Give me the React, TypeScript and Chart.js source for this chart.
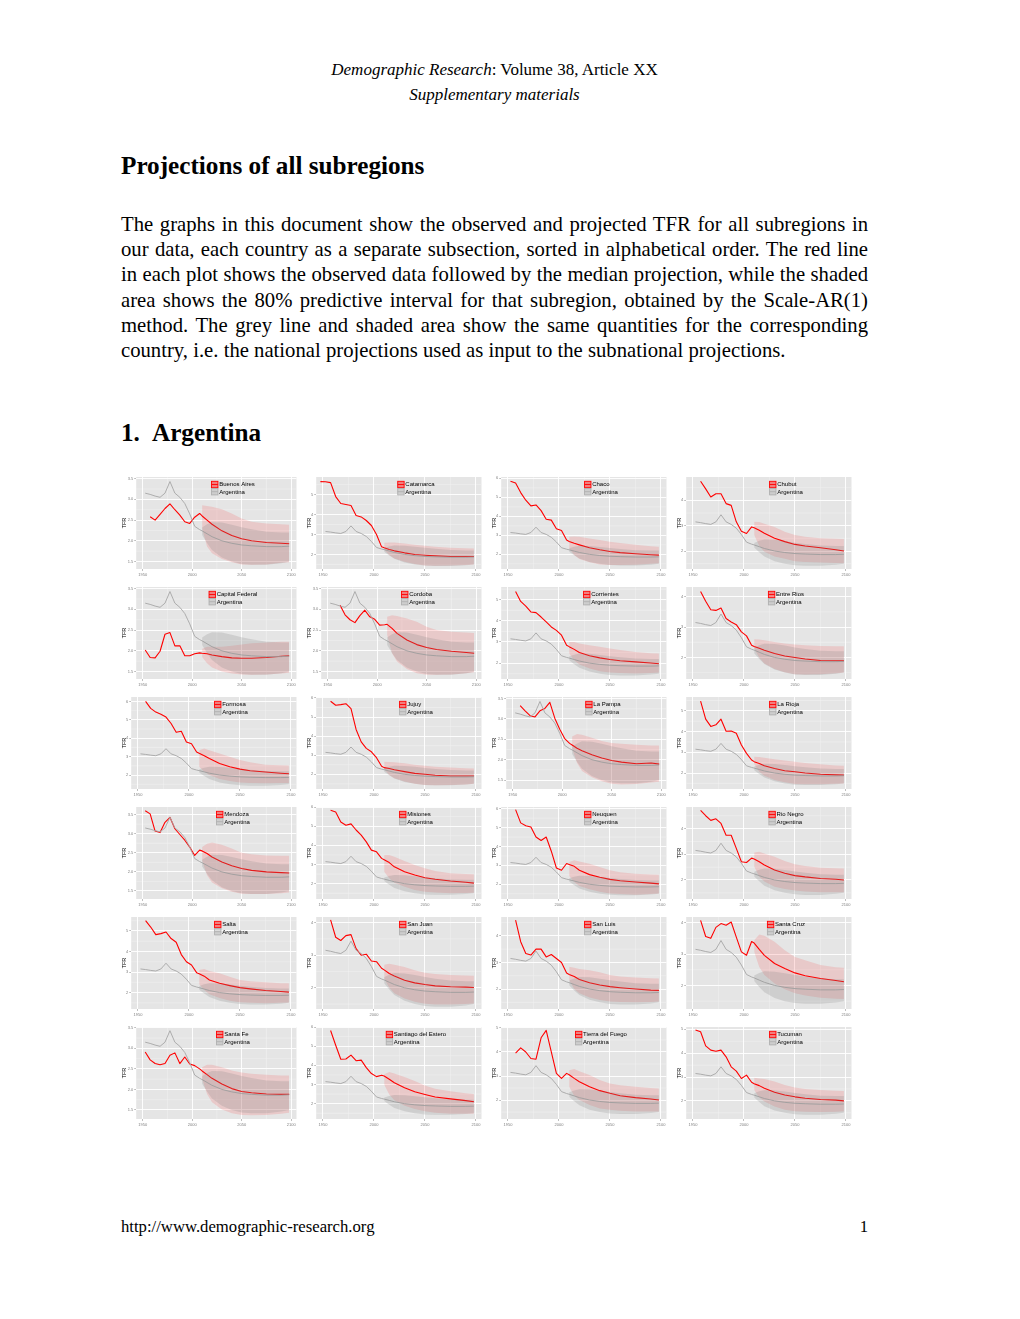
import React, { useEffect, useRef } from "react";
import { Chart, registerables } from "chart.js";
Chart.register(...registerables);

// ---------- DATA ----------
const obsYears = [1947.5, 1952.5, 1957.5, 1962.5, 1967.5, 1972.5, 1977.5, 1982.5, 1987.5, 1992.5, 1997.5, 2002.5, 2007.5];
const projYears = [2010, 2015, 2020, 2030, 2040, 2050, 2060, 2075, 2090, 2098];
const xTickYears = [1950, 2000, 2050, 2100];
const halfStepTicks = [1.5, 2.0, 2.5, 3.0, 3.5];
const unitStepTicks = [2, 3, 4, 5, 6];

// Argentina (national, grey)
const argentinaObs = [null, 3.15, 3.12, 3.08, 3.05, 3.15, 3.43, 3.15, 3.05, 2.9, 2.65, 2.35, 2.27];
const argentinaMed = [2.24, 2.17, 2.1, 2.0, 1.94, 1.9, 1.88, 1.86, 1.86, 1.87];
const argentinaLo = [2.14, 1.95, 1.78, 1.6, 1.5, 1.44, 1.42, 1.42, 1.46, 1.5];
const argentinaHi = [2.32, 2.4, 2.45, 2.44, 2.39, 2.33, 2.28, 2.22, 2.2, 2.2];

const buenosAiresObs = [null, null, 2.58, 2.5, 2.64, 2.78, 2.89, 2.75, 2.62, 2.46, 2.42, 2.57, 2.66];
const buenosAiresMed = [2.6, 2.5, 2.4, 2.24, 2.13, 2.05, 2.0, 1.96, 1.94, 1.93];
const buenosAiresLo = [2.3, 1.86, 1.7, 1.56, 1.48, 1.43, 1.42, 1.43, 1.47, 1.48];
const buenosAiresHi = [2.86, 2.84, 2.82, 2.76, 2.66, 2.54, 2.46, 2.42, 2.4, 2.39];

const catamarcaObs = [5.65, 5.64, 5.6, 4.9, 4.55, 4.5, 4.45, 3.95, 3.88, 3.7, 3.45, 3.0, 2.38];
const catamarcaMed = [2.33, 2.25, 2.18, 2.08, 2.0, 1.96, 1.93, 1.9, 1.9, 1.9];
const catamarcaLo = [2.25, 1.97, 1.8, 1.63, 1.52, 1.45, 1.43, 1.44, 1.47, 1.5];
const catamarcaHi = [2.58, 2.6, 2.6, 2.55, 2.49, 2.43, 2.38, 2.33, 2.31, 2.3];

const chacoObs = [null, 5.85, 5.75, 5.25, 4.85, 4.55, 4.6, 4.3, 3.85, 3.8, 3.35, 3.25, 2.75];
const chacoMed = [2.68, 2.58, 2.5, 2.35, 2.24, 2.15, 2.09, 2.03, 1.98, 1.96];
const chacoLo = [2.32, 1.97, 1.75, 1.58, 1.47, 1.44, 1.44, 1.46, 1.5, 1.53];
const chacoHi = [2.93, 2.94, 2.93, 2.84, 2.75, 2.67, 2.6, 2.5, 2.43, 2.4];

const chubutObs = [null, null, 4.75, 4.45, 4.13, 4.26, 4.26, 3.87, 3.8, 3.15, 2.78, 2.69, 2.95];
const chubutMed = [2.92, 2.82, 2.7, 2.5, 2.37, 2.26, 2.2, 2.13, 2.05, 2.0];
const chubutLo = [2.63, 2.2, 1.97, 1.78, 1.69, 1.6, 1.57, 1.55, 1.53, 1.52];
const chubutHi = [3.15, 3.14, 3.08, 2.95, 2.76, 2.63, 2.56, 2.5, 2.48, 2.47];

const capitalObs = [null, 2.02, 1.84, 1.83, 1.99, 2.4, 2.44, 2.12, 2.12, 1.88, 1.88, 1.93, 1.95];
const capitalMed = [1.94, 1.93, 1.9, 1.86, 1.83, 1.82, 1.82, 1.84, 1.87, 1.88];
const capitalLo = [1.85, 1.7, 1.6, 1.5, 1.45, 1.43, 1.42, 1.43, 1.45, 1.47];
const capitalHi = [2.05, 2.1, 2.1, 2.1, 2.12, 2.15, 2.18, 2.2, 2.22, 2.22];

const cordobaObs = [null, null, null, 3.1, 2.87, 2.75, 2.68, 2.85, 2.98, 2.82, 2.76, 2.62, 2.63];
const cordobaMed = [2.64, 2.54, 2.42, 2.26, 2.15, 2.08, 2.03, 1.99, 1.96, 1.94];
const cordobaLo = [2.38, 1.94, 1.74, 1.56, 1.46, 1.42, 1.42, 1.43, 1.46, 1.48];
const cordobaHi = [2.82, 2.86, 2.84, 2.78, 2.7, 2.58, 2.5, 2.46, 2.44, 2.43];

const corrientesObs = [null, null, 5.39, 4.92, 4.7, 4.42, 4.39, 4.18, 3.95, 3.71, 3.55, 3.32, 2.85];
const corrientesMed = [2.78, 2.65, 2.5, 2.35, 2.25, 2.17, 2.11, 2.06, 2.01, 1.97];
const corrientesLo = [2.45, 2.14, 1.94, 1.75, 1.62, 1.56, 1.53, 1.51, 1.53, 1.56];
const corrientesHi = [3.0, 3.0, 2.93, 2.85, 2.77, 2.69, 2.62, 2.53, 2.47, 2.45];

const entreRiosObs = [null, null, 4.17, 3.85, 3.57, 3.55, 3.63, 3.28, 3.17, 3.08, 2.84, 2.71, 2.4];
const entreRiosMed = [2.36, 2.3, 2.24, 2.13, 2.05, 2.0, 1.95, 1.9, 1.89, 1.89];
const entreRiosLo = [2.3, 1.99, 1.8, 1.62, 1.51, 1.45, 1.44, 1.45, 1.48, 1.5];
const entreRiosHi = [2.6, 2.59, 2.57, 2.51, 2.46, 2.43, 2.4, 2.38, 2.37, 2.37];

const formosaObs = [null, null, 6.0, 5.62, 5.42, 5.3, 5.15, 4.8, 4.32, 4.38, 3.8, 3.7, 3.25];
const formosaMed = [3.18, 3.05, 2.9, 2.63, 2.45, 2.32, 2.23, 2.16, 2.1, 2.07];
const formosaLo = [2.45, 2.18, 2.0, 1.78, 1.68, 1.6, 1.57, 1.55, 1.56, 1.57];
const formosaHi = [3.35, 3.44, 3.35, 3.17, 2.99, 2.81, 2.7, 2.56, 2.53, 2.52];

const jujuyObs = [null, null, 5.83, 5.62, 5.65, 5.7, 5.44, 4.35, 3.7, 3.36, 3.18, 2.87, 2.42];
const jujuyMed = [2.35, 2.3, 2.24, 2.14, 2.05, 2.0, 1.95, 1.91, 1.91, 1.91];
const jujuyLo = [2.28, 1.97, 1.79, 1.62, 1.5, 1.44, 1.43, 1.44, 1.47, 1.5];
const jujuyHi = [2.66, 2.65, 2.63, 2.58, 2.5, 2.45, 2.4, 2.35, 2.32, 2.31];

const laPampaObs = [null, null, 3.33, 3.2, 3.08, 3.05, 3.2, 3.26, 3.41, 3.02, 2.75, 2.52, 2.4];
const laPampaMed = [2.36, 2.28, 2.22, 2.12, 2.04, 1.98, 1.94, 1.9, 1.92, 1.89];
const laPampaLo = [2.28, 1.92, 1.72, 1.57, 1.47, 1.41, 1.39, 1.4, 1.44, 1.46];
const laPampaHi = [2.57, 2.63, 2.61, 2.54, 2.46, 2.41, 2.39, 2.37, 2.35, 2.35];

const laRiojaObs = [null, null, 5.47, 4.6, 4.25, 4.33, 4.6, 4.02, 4.03, 3.92, 3.35, 2.95, 2.63];
const laRiojaMed = [2.55, 2.46, 2.35, 2.22, 2.11, 2.06, 2.0, 1.94, 1.91, 1.9];
const laRiojaLo = [2.42, 2.06, 1.87, 1.66, 1.55, 1.47, 1.46, 1.46, 1.48, 1.5];
const laRiojaHi = [2.79, 2.78, 2.74, 2.67, 2.61, 2.55, 2.49, 2.42, 2.37, 2.35];

const mendozaObs = [null, 3.6, 3.52, 3.07, 3.03, 3.3, 3.43, 3.13, 2.98, 2.83, 2.65, 2.43, 2.57];
const mendozaMed = [2.55, 2.48, 2.39, 2.26, 2.16, 2.09, 2.04, 2.0, 1.98, 1.97];
const mendozaLo = [2.3, 1.91, 1.72, 1.57, 1.48, 1.43, 1.42, 1.42, 1.44, 1.46];
const mendozaHi = [2.65, 2.74, 2.77, 2.71, 2.61, 2.5, 2.46, 2.43, 2.42, 2.42];

const misionesObs = [null, null, 5.83, 5.74, 5.22, 5.05, 5.12, 4.8, 4.53, 4.18, 3.75, 3.66, 3.32];
const misionesMed = [3.25, 3.1, 2.88, 2.62, 2.45, 2.31, 2.23, 2.14, 2.07, 2.03];
const misionesLo = [2.62, 2.28, 2.05, 1.84, 1.67, 1.58, 1.54, 1.5, 1.51, 1.53];
const misionesHi = [3.49, 3.5, 3.4, 3.18, 2.97, 2.8, 2.66, 2.54, 2.5, 2.49];

const neuquenObs = [null, null, 5.95, 5.25, 5.1, 5.03, 4.5, 4.32, 4.5, 3.75, 2.86, 2.74, 3.1];
const neuquenMed = [3.05, 2.95, 2.74, 2.51, 2.37, 2.26, 2.19, 2.12, 2.06, 2.02];
const neuquenLo = [2.44, 2.12, 1.91, 1.74, 1.6, 1.51, 1.48, 1.45, 1.48, 1.51];
const neuquenHi = [3.18, 3.27, 3.21, 3.09, 2.92, 2.74, 2.64, 2.56, 2.52, 2.51];

const rioNegroObs = [null, null, 4.71, 4.5, 4.32, 4.38, 4.2, 3.74, 3.74, 3.23, 2.71, 2.68, 2.85];
const rioNegroMed = [2.82, 2.71, 2.58, 2.39, 2.26, 2.17, 2.12, 2.06, 2.03, 2.0];
const rioNegroLo = [2.52, 2.13, 1.94, 1.74, 1.65, 1.59, 1.55, 1.52, 1.52, 1.52];
const rioNegroHi = [3.07, 3.1, 3.03, 2.9, 2.74, 2.61, 2.54, 2.48, 2.46, 2.45];

const saltaObs = [null, null, 5.5, 5.19, 4.82, 4.87, 4.95, 4.63, 4.45, 3.85, 3.5, 3.34, 2.97];
const saltaMed = [2.92, 2.8, 2.61, 2.45, 2.34, 2.24, 2.18, 2.1, 2.05, 2.02];
const saltaLo = [2.4, 2.13, 1.92, 1.73, 1.6, 1.53, 1.5, 1.48, 1.5, 1.52];
const saltaHi = [3.1, 3.15, 3.05, 2.94, 2.77, 2.61, 2.55, 2.5, 2.46, 2.45];

const sanJuanObs = [null, null, 4.08, 3.55, 3.45, 3.6, 3.63, 3.2, 3.0, 3.03, 2.82, 2.8, 2.6];
const sanJuanMed = [2.55, 2.44, 2.36, 2.23, 2.15, 2.1, 2.06, 2.03, 2.02, 2.01];
const sanJuanLo = [2.29, 2.0, 1.83, 1.67, 1.57, 1.51, 1.49, 1.49, 1.5, 1.52];
const sanJuanHi = [2.71, 2.74, 2.71, 2.64, 2.54, 2.46, 2.42, 2.39, 2.38, 2.37];

const sanLuisObs = [null, null, 4.59, 3.78, 3.34, 3.28, 3.5, 3.5, 3.21, 3.3, 3.15, 3.0, 2.6];
const sanLuisMed = [2.55, 2.47, 2.36, 2.24, 2.15, 2.09, 2.05, 2.0, 1.96, 1.95];
const sanLuisLo = [2.34, 2.0, 1.84, 1.68, 1.59, 1.53, 1.51, 1.5, 1.51, 1.53];
const sanLuisHi = [2.84, 2.8, 2.75, 2.71, 2.63, 2.53, 2.47, 2.43, 2.41, 2.4];

const santaCruzObs = [null, null, 4.07, 3.56, 3.5, 3.85, 3.97, 3.92, 4.02, 3.54, 3.07, 2.96, 3.4];
const santaCruzMed = [3.35, 3.15, 2.96, 2.7, 2.54, 2.4, 2.31, 2.22, 2.16, 2.12];
const santaCruzLo = [3.07, 2.59, 2.33, 2.06, 1.88, 1.75, 1.68, 1.61, 1.58, 1.57];
const santaCruzHi = [3.44, 3.62, 3.58, 3.39, 3.12, 2.91, 2.8, 2.65, 2.58, 2.56];

const santaFeObs = [null, 2.91, 2.72, 2.63, 2.6, 2.63, 2.83, 2.89, 2.63, 2.79, 2.62, 2.58, 2.5];
const santaFeMed = [2.45, 2.36, 2.27, 2.13, 2.02, 1.95, 1.92, 1.89, 1.88, 1.88];
const santaFeLo = [2.26, 1.89, 1.69, 1.51, 1.42, 1.38, 1.37, 1.38, 1.41, 1.43];
const santaFeHi = [2.54, 2.6, 2.6, 2.54, 2.46, 2.41, 2.38, 2.36, 2.34, 2.34];

const santiagoObs = [null, null, 5.82, 5.05, 4.32, 4.33, 4.53, 4.24, 4.27, 3.88, 3.57, 3.41, 3.48];
const santiagoMed = [3.44, 3.27, 3.09, 2.83, 2.62, 2.48, 2.35, 2.25, 2.16, 2.1];
const santiagoLo = [3.0, 2.48, 2.18, 1.89, 1.72, 1.6, 1.53, 1.47, 1.47, 1.47];
const santiagoHi = [3.53, 3.65, 3.58, 3.39, 3.18, 2.95, 2.78, 2.65, 2.55, 2.51];

const tierraObs = [null, null, 3.95, 4.17, 4.0, 3.73, 3.7, 4.59, 4.9, 4.0, 3.11, 2.9, 3.11];
const tierraMed = [3.05, 2.9, 2.76, 2.55, 2.39, 2.28, 2.18, 2.1, 2.04, 2.0];
const tierraLo = [2.55, 2.18, 2.0, 1.79, 1.65, 1.59, 1.55, 1.52, 1.52, 1.52];
const tierraHi = [3.24, 3.29, 3.2, 3.04, 2.83, 2.69, 2.61, 2.55, 2.5, 2.48];

const tucumanObs = [null, 4.97, 4.9, 4.31, 4.13, 4.08, 4.13, 3.85, 3.43, 3.25, 2.94, 3.08, 2.78];
const tucumanMed = [2.72, 2.64, 2.53, 2.36, 2.25, 2.17, 2.11, 2.06, 2.03, 2.0];
const tucumanLo = [2.46, 2.14, 1.97, 1.76, 1.63, 1.56, 1.54, 1.53, 1.54, 1.56];
const tucumanHi = [2.97, 2.94, 2.92, 2.81, 2.67, 2.56, 2.5, 2.46, 2.43, 2.42];

const regionNames = [
  "Buenos Aires", "Catamarca", "Chaco", "Chubut",
  "Capital Federal", "Cordoba", "Corrientes", "Entre Rios",
  "Formosa", "Jujuy", "La Pampa", "La Rioja",
  "Mendoza", "Misiones", "Neuquen", "Rio Negro",
  "Salta", "San Juan", "San Luis", "Santa Cruz",
  "Santa Fe", "Santiago del Estero", "Tierra del Fuego", "Tucuman",
];
const regionObs = [buenosAiresObs, catamarcaObs, chacoObs, chubutObs, capitalObs, cordobaObs, corrientesObs, entreRiosObs, formosaObs, jujuyObs, laPampaObs, laRiojaObs, mendozaObs, misionesObs, neuquenObs, rioNegroObs, saltaObs, sanJuanObs, sanLuisObs, santaCruzObs, santaFeObs, santiagoObs, tierraObs, tucumanObs];
const regionMed = [buenosAiresMed, catamarcaMed, chacoMed, chubutMed, capitalMed, cordobaMed, corrientesMed, entreRiosMed, formosaMed, jujuyMed, laPampaMed, laRiojaMed, mendozaMed, misionesMed, neuquenMed, rioNegroMed, saltaMed, sanJuanMed, sanLuisMed, santaCruzMed, santaFeMed, santiagoMed, tierraMed, tucumanMed];
const regionLo = [buenosAiresLo, catamarcaLo, chacoLo, chubutLo, capitalLo, cordobaLo, corrientesLo, entreRiosLo, formosaLo, jujuyLo, laPampaLo, laRiojaLo, mendozaLo, misionesLo, neuquenLo, rioNegroLo, saltaLo, sanJuanLo, sanLuisLo, santaCruzLo, santaFeLo, santiagoLo, tierraLo, tucumanLo];
const regionHi = [buenosAiresHi, catamarcaHi, chacoHi, chubutHi, capitalHi, cordobaHi, corrientesHi, entreRiosHi, formosaHi, jujuyHi, laPampaHi, laRiojaHi, mendozaHi, misionesHi, neuquenHi, rioNegroHi, saltaHi, sanJuanHi, sanLuisHi, santaCruzHi, santaFeHi, santiagoHi, tierraHi, tucumanHi];
const yMinByRegion = [1.32, 1.27, 1.23, 1.29, 1.32, 1.32, 1.25, 1.29, 1.24, 1.23, 1.28, 1.23, 1.29, 1.2, 1.22, 1.26, 1.2, 1.35, 1.25, 1.25, 1.28, 1.2, 1.21, 1.24];
const yMaxByRegion = [3.54, 5.88, 6.07, 4.92, 3.54, 3.54, 5.6, 4.32, 6.24, 6.05, 3.54, 5.67, 3.7, 6.0, 6.09, 4.84, 5.68, 4.17, 4.71, 4.18, 3.52, 6.0, 5.04, 5.1];
const halfStepRegion = [true, false, false, false, true, true, false, false, false, false, true, false, true, false, false, false, false, false, false, false, true, false, false, false];

const paragraphLines = [
  "The graphs in this document show the observed and projected TFR for all subregions in",
  "our data, each country as a separate subsection, sorted in alphabetical order. The red line",
  "in each plot shows the observed data followed by the median projection, while the shaded",
  "area shows the 80% predictive interval for that subregion, obtained by the Scale-AR(1)",
  "method.  The grey line and shaded area show the same quantities for the corresponding",
  "country, i.e. the national projections used as input to the subnational projections.",
];

// ---------- LAYOUT ----------
const SANS = '"Liberation Sans", Arial, Helvetica, sans-serif';
const SERIF = '"Liberation Serif", "Times New Roman", Times, serif';
const COL_LEFT = [121, 306, 491, 676];
const ROW_TOP = [472, 582, 692, 802, 912, 1022];
const CW = 178;
const CH = 107;

function toPoints(years: number[], vals: (number | null)[]) {
  const out: { x: number; y: number }[] = [];
  years.forEach((yr, i) => {
    const v = vals[i];
    if (v !== null && v !== undefined) out.push({ x: yr, y: v });
  });
  return out;
}

function minorBreaks(vals: number[], lo: number, hi: number) {
  if (vals.length < 2) return [];
  const d = vals[1] - vals[0];
  const b = [vals[0] - d, ...vals, vals[vals.length - 1] + d];
  const m: number[] = [];
  for (let i = 0; i < b.length - 1; i++) {
    const v = (b[i] + b[i + 1]) / 2;
    if (v > lo && v < hi) m.push(v);
  }
  return m;
}

const panelPlugin = {
  id: "ggPanel",
  beforeDraw(chart: any) {
    const { ctx, chartArea: a, scales } = chart;
    ctx.save();
    ctx.fillStyle = "#E5E5E5";
    ctx.fillRect(a.left, a.top, a.width, a.height);
    ctx.strokeStyle = "#F2F2F2";
    ctx.lineWidth = 0.5;
    const xs = scales.x;
    const ys = scales.y;
    minorBreaks(xs.ticks.map((t: any) => t.value), xs.min, xs.max).forEach((v) => {
      const p = xs.getPixelForValue(v);
      ctx.beginPath();
      ctx.moveTo(p, a.top);
      ctx.lineTo(p, a.bottom);
      ctx.stroke();
    });
    minorBreaks(ys.ticks.map((t: any) => t.value), ys.min, ys.max).forEach((v) => {
      const p = ys.getPixelForValue(v);
      ctx.beginPath();
      ctx.moveTo(a.left, p);
      ctx.lineTo(a.right, p);
      ctx.stroke();
    });
    ctx.restore();
  },
};

const legendPlugin = {
  id: "ggLegend",
  afterDraw(chart: any, _args: any, opts: any) {
    const { ctx, chartArea: a } = chart;
    const labels = [opts.name, "Argentina"];
    ctx.save();
    ctx.font = `6px ${SANS}`;
    const tw = Math.max(...labels.map((l: string) => ctx.measureText(l).width));
    const key = 6.4;
    const gap = 1.2;
    const total = key + gap + tw;
    const x0 = a.left + a.width * 0.605 - total / 2;
    const y0 = a.top + 4.3;
    labels.forEach((lab: string, i: number) => {
      const ky = y0 + i * 7.2;
      const isRed = i === 0;
      ctx.fillStyle = isRed ? "rgba(255,0,0,0.45)" : "rgba(150,150,150,0.3)";
      ctx.fillRect(x0, ky, key, key);
      ctx.strokeStyle = isRed ? "#FF0000" : "#B0B0B0";
      ctx.lineWidth = 0.9;
      ctx.strokeRect(x0, ky, key, key);
      ctx.beginPath();
      ctx.moveTo(x0, ky + key / 2);
      ctx.lineTo(x0 + key, ky + key / 2);
      ctx.stroke();
      ctx.fillStyle = "#000";
      ctx.textBaseline = "middle";
      ctx.textAlign = "left";
      ctx.fillText(lab, x0 + key + gap, ky + key / 2 + 0.3);
    });
    ctx.restore();
  },
};

function MiniChart({ idx }: { idx: number }) {
  const ref = useRef<HTMLCanvasElement>(null);
  const col = idx % 4;
  const row = Math.floor(idx / 4);
  useEffect(() => {
    const canvas = ref.current;
    if (!canvas) return;
    const half = halfStepRegion[idx];
    const yMin = yMinByRegion[idx];
    const yMax = yMaxByRegion[idx];
    const yTickSet = (half ? halfStepTicks : unitStepTicks).filter((v) => v >= yMin && v <= yMax);
    const redLine = [...toPoints(obsYears, regionObs[idx]), ...toPoints(projYears, regionMed[idx])];
    const greyLine = [...toPoints(obsYears, argentinaObs), ...toPoints(projYears, argentinaMed)];
    const chart = new Chart(canvas, {
      type: "line",
      data: {
        datasets: [
          { data: redLine, borderColor: "#FF0000", borderWidth: 1.1, pointRadius: 0, fill: false, order: 3, borderJoinStyle: "round" },
          { data: greyLine, borderColor: "#A6A6A6", borderWidth: 0.9, pointRadius: 0, fill: false, order: 2 },
          { data: toPoints(projYears, regionLo[idx]), borderColor: "transparent", borderWidth: 0, pointRadius: 0, fill: false, order: 4 },
          { data: toPoints(projYears, regionHi[idx]), borderColor: "transparent", borderWidth: 0, pointRadius: 0, fill: "-1", backgroundColor: "rgba(255,0,0,0.12)", order: 4 },
          { data: toPoints(projYears, argentinaLo), borderColor: "transparent", borderWidth: 0, pointRadius: 0, fill: false, order: 1 },
          { data: toPoints(projYears, argentinaHi), borderColor: "transparent", borderWidth: 0, pointRadius: 0, fill: "-1", backgroundColor: "rgba(127,127,127,0.22)", order: 1 },
        ],
      } as any,
      options: {
        responsive: false,
        animation: false,
        devicePixelRatio: 1,
        events: [],
        layout: { padding: { top: 5, right: 2.5, left: 0, bottom: 0 } },
        plugins: {
          legend: { display: false },
          tooltip: { enabled: false },
          ggLegend: { name: regionNames[idx] },
        } as any,
        scales: {
          x: {
            type: "linear",
            min: 1943.4,
            max: 2105.4,
            afterBuildTicks: (s: any) => {
              s.ticks = xTickYears.map((v) => ({ value: v }));
            },
            afterFit: (s: any) => {
              s.height = 10;
            },
            ticks: {
              autoSkip: false,
              maxRotation: 0,
              padding: 1.5,
              color: "#7F7F7F",
              font: { size: 4, family: SANS },
              callback: (v: any) => String(v),
            },
            grid: { color: "#FFFFFF", lineWidth: 0.9, tickColor: "#7F7F7F", tickLength: 2, tickWidth: 0.5 },
            border: { display: false },
          },
          y: {
            type: "linear",
            min: yMin,
            max: yMax,
            afterBuildTicks: (s: any) => {
              s.ticks = yTickSet.map((v) => ({ value: v }));
            },
            afterFit: (s: any) => {
              s.width = half ? 15.2 : 10.2;
            },
            title: { display: true, text: "TFR", color: "#000", font: { size: 5.5, family: SANS }, padding: 0 },
            ticks: {
              autoSkip: false,
              padding: 1,
              color: "#7F7F7F",
              font: { size: 4, family: SANS },
              callback: (v: any) => (half ? Number(v).toFixed(1) : String(v)),
            },
            grid: { color: "#FFFFFF", lineWidth: 0.9, tickColor: "#7F7F7F", tickLength: 2, tickWidth: 0.5 },
            border: { display: false },
          },
        },
      } as any,
      plugins: [panelPlugin, legendPlugin] as any,
    });
    return () => chart.destroy();
  }, [idx]);
  return (
    <canvas
      ref={ref}
      width={CW}
      height={CH}
      style={{ position: "absolute", left: COL_LEFT[col], top: ROW_TOP[row], width: CW, height: CH }}
    />
  );
}

export default function App() {
  const lineTop = (baseline: number, size: number) => baseline - 0.9375 * size;
  return (
    <div style={{ position: "absolute", left: 0, top: 0, width: 1020, height: 1319, background: "#fff", fontFamily: SERIF, color: "#000", overflow: "hidden" }}>
      <div style={{ position: "absolute", left: 0, width: 989, top: lineTop(76, 17), fontSize: 17, lineHeight: 1.2, textAlign: "center", whiteSpace: "nowrap" }}>
        <i>Demographic Research</i>: Volume 38, Article XX
      </div>
      <div style={{ position: "absolute", left: 0, width: 989, top: lineTop(101, 17), fontSize: 17, lineHeight: 1.2, textAlign: "center", whiteSpace: "nowrap" }}>
        <i>Supplementary materials</i>
      </div>
      <div style={{ position: "absolute", left: 121, top: lineTop(175, 25.2), fontSize: 25.2, lineHeight: 1.2, fontWeight: "bold", whiteSpace: "nowrap" }}>
        Projections of all subregions
      </div>
      {paragraphLines.map((ln, i) => (
        <div
          key={i}
          style={{
            position: "absolute",
            left: 121,
            width: 747,
            top: lineTop(231.5 + 25.2 * i, 20.7),
            fontSize: 20.7,
            lineHeight: 1.2,
            whiteSpace: "nowrap",
            textAlign: i === paragraphLines.length - 1 ? "left" : "justify",
            textAlignLast: i === paragraphLines.length - 1 ? "left" : "justify",
          } as any}
        >
          {ln}
        </div>
      ))}
      <div style={{ position: "absolute", left: 121, top: lineTop(442, 25.2), fontSize: 25.2, lineHeight: 1.2, fontWeight: "bold", whiteSpace: "nowrap" }}>
        1.
      </div>
      <div style={{ position: "absolute", left: 152, top: lineTop(442, 25.2), fontSize: 25.2, lineHeight: 1.2, fontWeight: "bold", whiteSpace: "nowrap" }}>
        Argentina
      </div>
      {regionNames.map((_, i) => (
        <MiniChart key={i} idx={i} />
      ))}
      <div style={{ position: "absolute", left: 121, top: lineTop(1233, 16.7), fontSize: 16.7, lineHeight: 1.2, whiteSpace: "nowrap" }}>
        http://www.demographic-research.org
      </div>
      <div style={{ position: "absolute", left: 768, width: 100, top: lineTop(1233, 16.7), fontSize: 16.7, lineHeight: 1.2, textAlign: "right" }}>
        1
      </div>
    </div>
  );
}
